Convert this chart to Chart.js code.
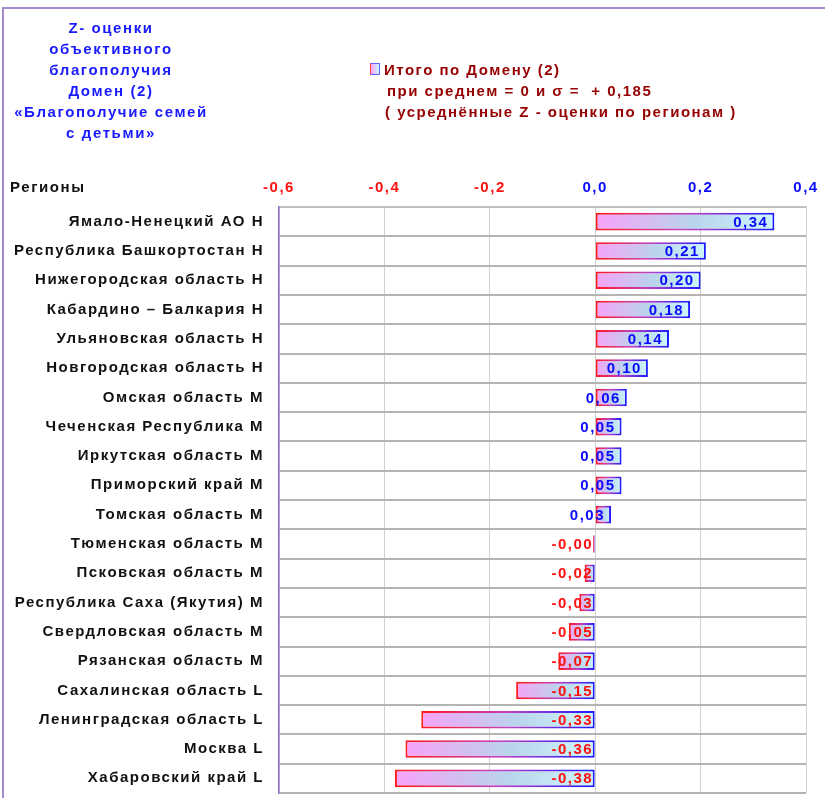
<!DOCTYPE html>
<html>
<head>
<meta charset="utf-8">
<script src="https://cdn.jsdelivr.net/npm/chart.js@4/dist/chart.umd.min.js"></script>
<style>
  html, body { margin:0; padding:0; background:#fff; }
  body { width:825px; height:798px; position:relative; overflow:hidden;
         font-family:"Liberation Sans", Arial, sans-serif; font-weight:bold; }
  #frame { position:absolute; left:2px; top:7px; width:830px; height:800px;
           border-left:2px solid #a58ad0; border-top:2px solid #a58ad0; }
  #chart { position:absolute; left:0; top:0; }
  #titre { position:absolute; left:5px; top:17px; width:212px; text-align:center;
           color:#1a1aff; font-size:15px; line-height:21px; letter-spacing:1.6px; }
  #legende { position:absolute; left:370px; top:59px; color:#960000;
             font-size:15px; line-height:21px; letter-spacing:1.5px; }
  #legende .carre { display:inline-block; width:8px; height:10px; margin-right:4px;
             border:1px solid #6060ff; border-left-color:#ff4040;
             background:linear-gradient(to right,#f7a3f7,#ccf7fb); vertical-align:0px; }
  #regions { position:absolute; left:10px; top:178px; font-size:15px; color:#111; letter-spacing:1.6px; }
</style>
</head>
<body>
<div id="frame"></div>
<canvas id="chart" width="825" height="798"></canvas>
<div id="titre">Z- оценки<br>объективного<br>благополучия<br>Домен (2)<br>«Благополучие семей<br>с детьми»</div>
<div id="legende">
  <div><span class="carre"></span>Итого по Домену (2)</div>
  <div style="padding-left:17px">при среднем = 0 и σ = &nbsp;+ 0,185</div>
  <div style="padding-left:15px">( усреднённые Z - оценки по регионам )</div>
</div>
<div id="regions">Регионы</div>
<script>
// ------------------- DADOS -------------------
const regioes = [
  "Ямало-Ненецкий АО Н",
  "Республика Башкортостан Н",
  "Нижегородская область Н",
  "Кабардино – Балкария Н",
  "Ульяновская область Н",
  "Новгородская область Н",
  "Омская область М",
  "Чеченская Республика М",
  "Иркутская область М",
  "Приморский край М",
  "Томская область М",
  "Тюменская область М",
  "Псковская область М",
  "Республика Саха (Якутия) М",
  "Свердловская область М",
  "Рязанская область М",
  "Сахалинская область L",
  "Ленинградская область L",
  "Москва L",
  "Хабаровский край L"
];
const zOcenki = [0.34, 0.21, 0.20, 0.18, 0.14, 0.10, 0.06, 0.05, 0.05, 0.05,
                 0.03, -0.004, -0.02, -0.03, -0.05, -0.07, -0.15, -0.33, -0.36, -0.38];
const eixoMin = -0.6;
const eixoMax = 0.4;
const eixoPasso = 0.2;

const AZUL = "#0a0aff";
const VERMELHO = "#ff1010";
const FONTE = "'Liberation Sans', Arial, sans-serif";

function formatar(v, casas){
  return v.toFixed(casas).replace('.', ',');
}

// extremos do retângulo em pixels, a partir da escala
function extremos(chart, v){
  const xs = chart.scales.x;
  let x0 = xs.getPixelForValue(Math.min(0, v));
  let x1 = xs.getPixelForValue(Math.max(0, v));
  if(x1 - x0 < 1) x1 = x0 + 1;
  return [x0, x1];
}

// ------------------- PLUGINS -------------------
const espacamento = {
  id: 'espacamento',
  beforeDraw(chart){ chart.ctx.letterSpacing = '1.5px'; }
};

const rotulos = {
  id: 'rotulos',
  afterDatasetsDraw(chart){
    const ctx = chart.ctx;
    const meta = chart.getDatasetMeta(0);
    const zero = chart.scales.x.getPixelForValue(0);
    ctx.save();
    ctx.font = "bold 15px " + FONTE;
    ctx.textAlign = 'right';
    ctx.textBaseline = 'middle';
    meta.data.forEach((bar, i) => {
      const v = zOcenki[i];
      let x;
      if(v >= 0){
        ctx.fillStyle = AZUL;
        x = bar.x - 6;
      }else{
        ctx.fillStyle = VERMELHO;
        x = zero - 2;
      }
      ctx.fillText(formatar(v, 2), x, bar.y + 1);
    });
    ctx.restore();
  }
};

// ------------------- GRÁFICO -------------------
new Chart(document.getElementById('chart'), {
  type: 'bar',
  data: {
    labels: regioes,
    datasets: [{
      data: zOcenki,
      barPercentage: 0.6,
      categoryPercentage: 1,
      borderWidth: 2,
      borderSkipped: false,
      backgroundColor: function(c){
        const chart = c.chart;
        if(!chart.chartArea) return '#ccc';
        const [x0, x1] = extremos(chart, c.raw);
        const g = chart.ctx.createLinearGradient(x0, 0, x1, 0);
        g.addColorStop(0, '#f7a2f8');
        g.addColorStop(0.55, '#b9d4ec');
        g.addColorStop(1, '#cdf6fb');
        return g;
      },
      borderColor: function(c){
        const chart = c.chart;
        if(!chart.chartArea) return '#00f';
        const [x0, x1] = extremos(chart, c.raw);
        const g = chart.ctx.createLinearGradient(x0, 0, x1, 0);
        g.addColorStop(0, '#ff1a1a');
        g.addColorStop(0.5, '#c040c0');
        g.addColorStop(1, '#1a1aff');
        return g;
      }
    }]
  },
  options: {
    indexAxis: 'y',
    responsive: false,
    animation: false,
    layout: { padding: { left: 0, right: 19, top: 0, bottom: 5 } },
    plugins: { legend: { display: false }, tooltip: { enabled: false } },
    scales: {
      x: {
        position: 'top',
        min: eixoMin,
        max: eixoMax,
        // sem margem extra das escalas: a área fica onde o layout manda
        afterFit(s){ s.height = 207; s.paddingLeft = 0; s.paddingRight = 0; },
        ticks: {
          stepSize: eixoPasso,
          padding: 10,
          font: { family: FONTE, size: 15, weight: 'bold' },
          color: c => c.tick.value < -1e-9 ? VERMELHO : AZUL,
          callback: v => formatar(v, 1)
        },
        grid: { color: '#d0d0d0', lineWidth: 1, drawTicks: false },
        border: { color: '#c4c4c4', width: 1.5 }
      },
      y: {
        afterFit(s){ s.width = 279; s.paddingTop = 0; s.paddingBottom = 0; },
        ticks: {
          padding: 15,
          font: { family: FONTE, size: 15, weight: 'bold' },
          color: '#111'
        },
        grid: { color: '#b4b4b4', lineWidth: 2, drawTicks: false },
        border: { color: '#8e6cc8', width: 1.5 }
      }
    }
  },
  plugins: [espacamento, rotulos]
});
</script>
</body>
</html>
